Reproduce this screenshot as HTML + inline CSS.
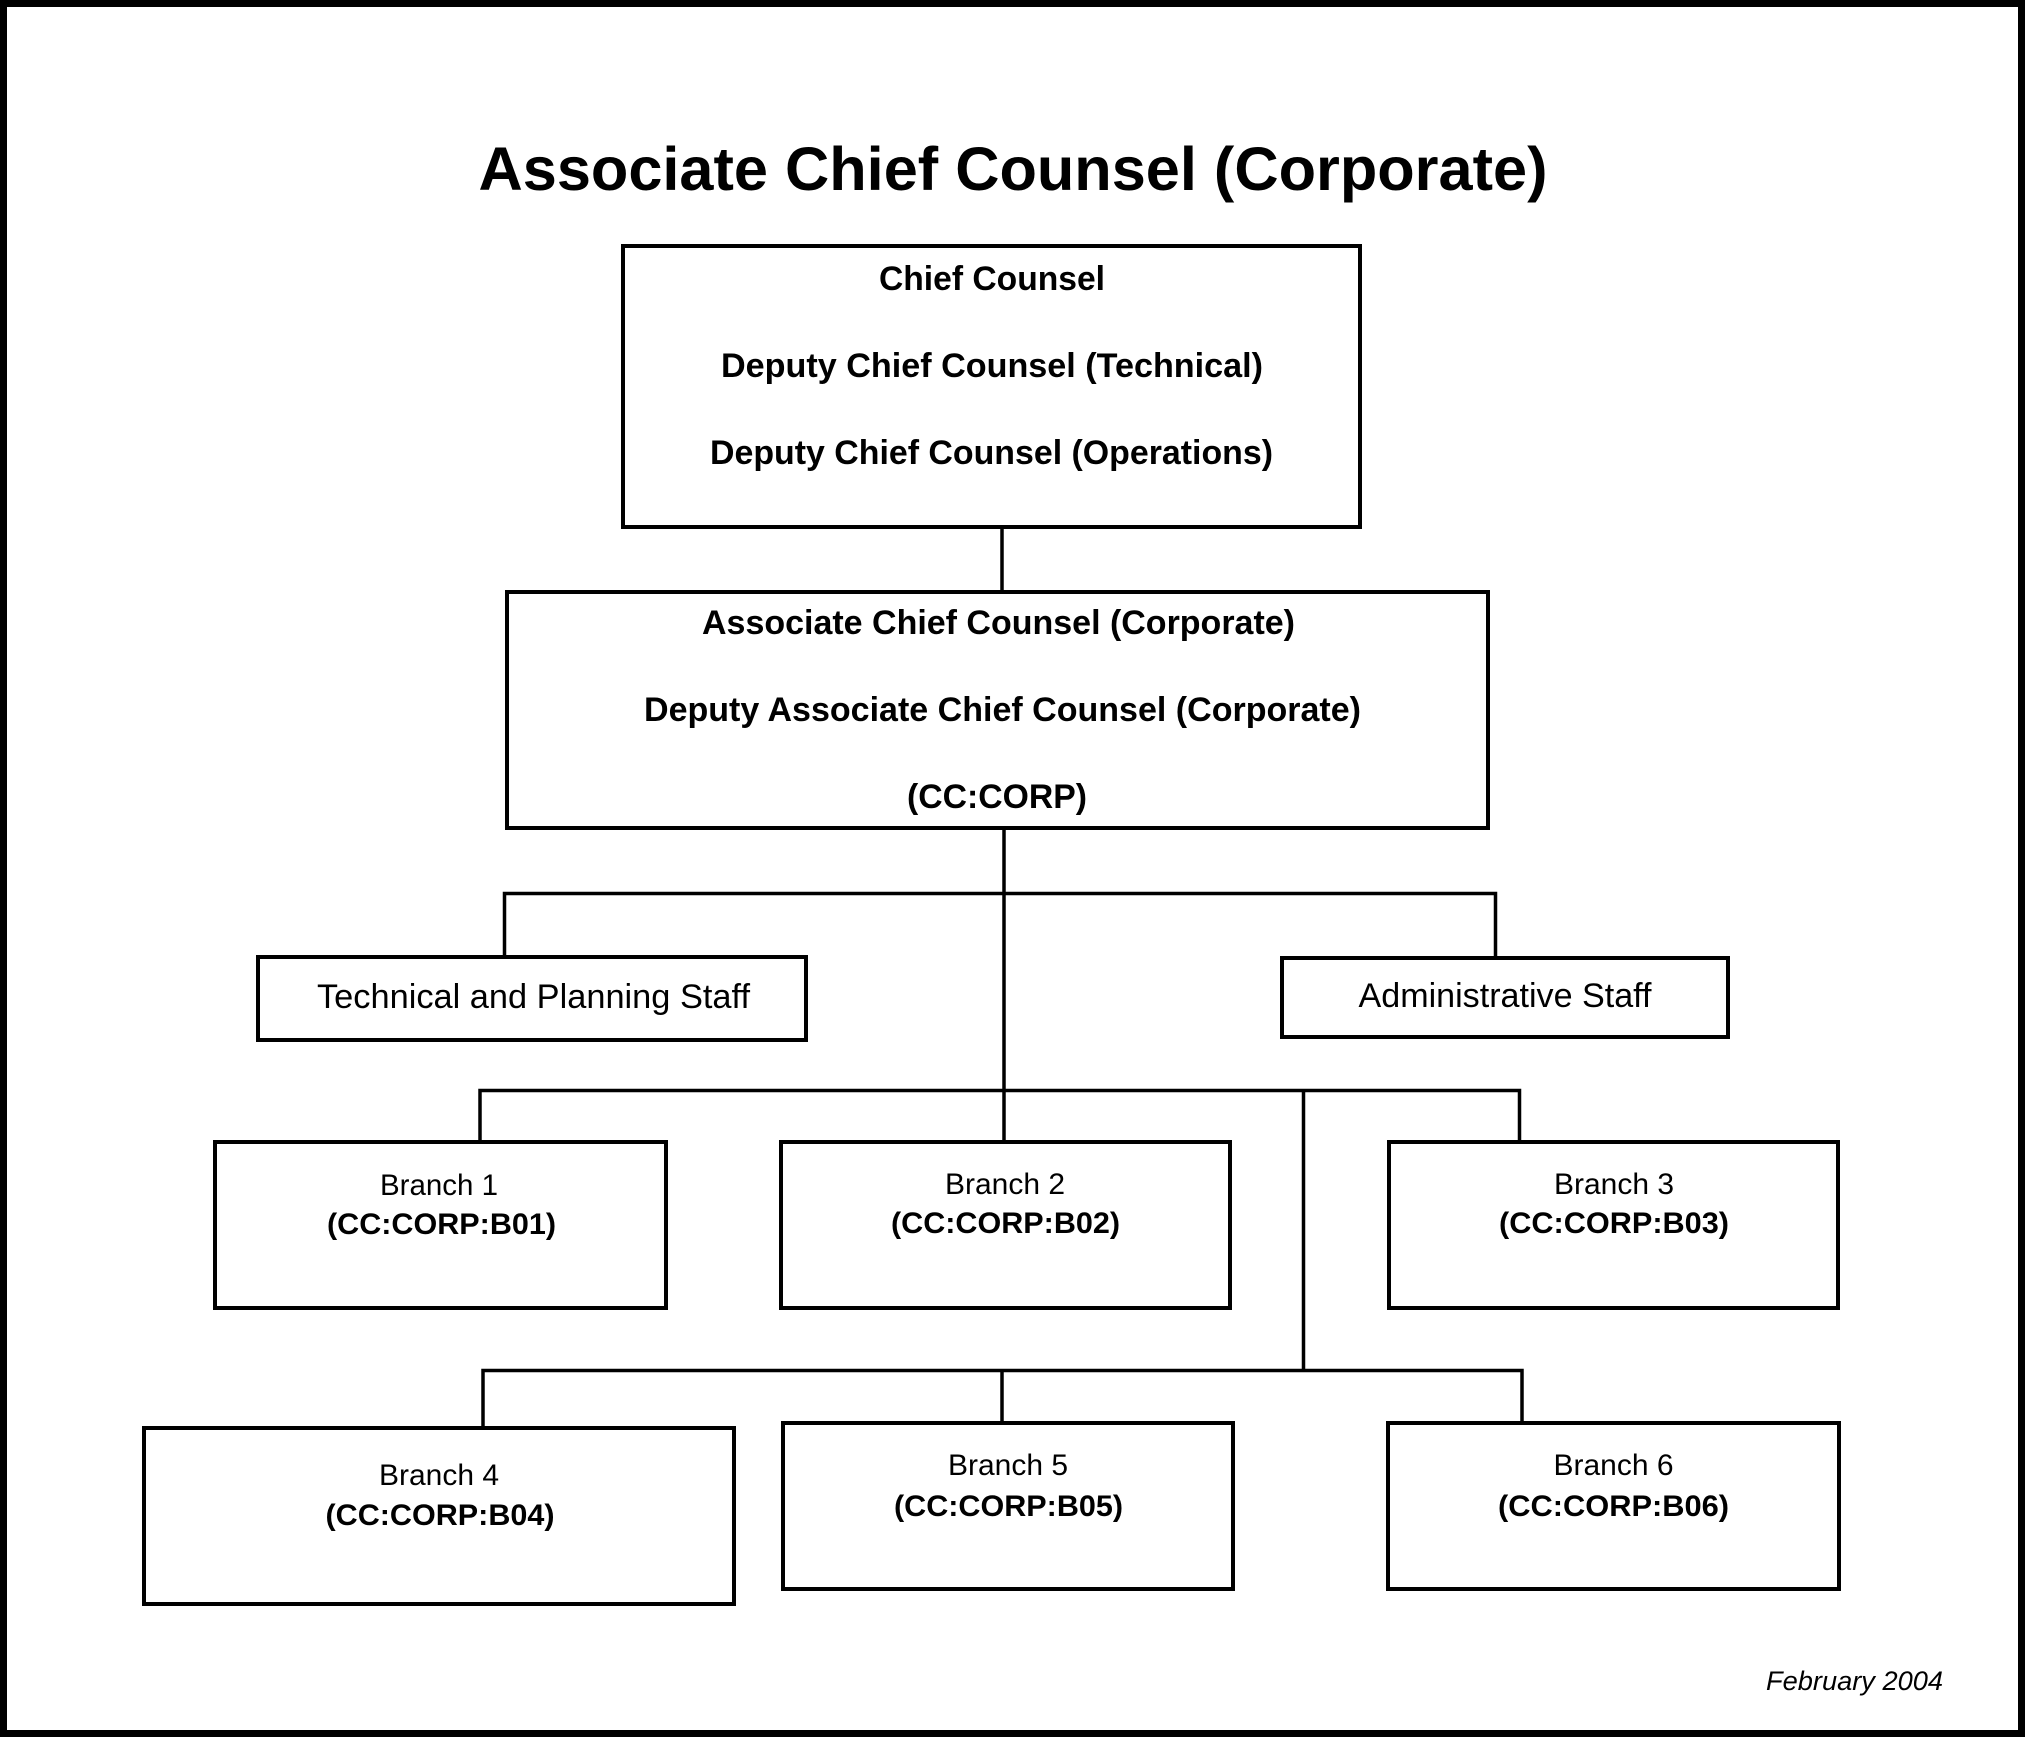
<!DOCTYPE html>
<html>
<head>
<meta charset="utf-8">
<style>
  html, body { margin: 0; padding: 0; background: #ffffff; }
  body { width: 2025px; height: 1737px; overflow: hidden; }
  svg { display: block; }
  text { font-family: "Liberation Sans", Arial, sans-serif; fill: #000; }
  .b { font-weight: bold; }
</style>
</head>
<body>
<svg width="2025" height="1737" viewBox="0 0 2025 1737" xmlns="http://www.w3.org/2000/svg">
  <rect x="0" y="0" width="2025" height="1737" fill="#ffffff"/>
  <!-- outer frame -->
  <rect x="3.5" y="3.5" width="2018" height="1730" fill="none" stroke="#000" stroke-width="7"/>

  <!-- title -->
  <text x="1013" y="190" text-anchor="middle" class="b" font-size="61" textLength="1069" lengthAdjust="spacingAndGlyphs">Associate Chief Counsel (Corporate)</text>

  <!-- boxes -->
  <g fill="none" stroke="#000" stroke-width="4">
    <rect x="623" y="246" width="737" height="281"/>
    <rect x="507" y="592" width="981" height="236"/>
    <rect x="258" y="957" width="548" height="83"/>
    <rect x="1282" y="958" width="446" height="79"/>
    <rect x="215" y="1142" width="451" height="166"/>
    <rect x="781" y="1142" width="449" height="166"/>
    <rect x="1389" y="1142" width="449" height="166"/>
    <rect x="144" y="1428" width="590" height="176"/>
    <rect x="783" y="1423" width="450" height="166"/>
    <rect x="1388" y="1423" width="451" height="166"/>
  </g>

  <!-- connectors -->
  <g fill="none" stroke="#000" stroke-width="3.5" stroke-linejoin="miter">
    <path d="M1002 529 V590"/>
    <path d="M1004 830 V1140"/>
    <path d="M504.5 956 V893.5 H1495.5 V957"/>
    <path d="M480 1141 V1090.5 H1519.5 V1141"/>
    <path d="M1303.5 1090.5 V1370.5"/>
    <path d="M483 1427 V1370.5 H1522 V1422"/>
    <path d="M1002 1370.5 V1422"/>
  </g>

  <!-- chief / associate box text -->
  <g class="b" font-size="34" text-anchor="middle">
    <text x="992" y="290" textLength="226" lengthAdjust="spacingAndGlyphs">Chief Counsel</text>
    <text x="992" y="377" textLength="542" lengthAdjust="spacingAndGlyphs">Deputy Chief Counsel (Technical)</text>
    <text x="991.5" y="464" textLength="563" lengthAdjust="spacingAndGlyphs">Deputy Chief Counsel (Operations)</text>
    <text x="998.5" y="634" textLength="593" lengthAdjust="spacingAndGlyphs">Associate Chief Counsel (Corporate)</text>
    <text x="1002.5" y="721" textLength="717" lengthAdjust="spacingAndGlyphs">Deputy Associate Chief Counsel (Corporate)</text>
    <text x="997" y="808" textLength="180" lengthAdjust="spacingAndGlyphs">(CC:CORP)</text>
  </g>

  <!-- staff -->
  <g font-size="34" text-anchor="middle">
    <text x="533.5" y="1008" textLength="433" lengthAdjust="spacingAndGlyphs">Technical and Planning Staff</text>
    <text x="1505" y="1007" textLength="293" lengthAdjust="spacingAndGlyphs">Administrative Staff</text>
  </g>

  <!-- branches -->
  <g font-size="30" text-anchor="middle">
    <text x="439" y="1195" textLength="118" lengthAdjust="spacingAndGlyphs">Branch 1</text>
    <text x="441.5" y="1234" class="b" textLength="229" lengthAdjust="spacingAndGlyphs">(CC:CORP:B01)</text>
    <text x="1005" y="1194" textLength="120" lengthAdjust="spacingAndGlyphs">Branch 2</text>
    <text x="1005.5" y="1233" class="b" textLength="229" lengthAdjust="spacingAndGlyphs">(CC:CORP:B02)</text>
    <text x="1614" y="1194" textLength="120" lengthAdjust="spacingAndGlyphs">Branch 3</text>
    <text x="1614" y="1233" class="b" textLength="230" lengthAdjust="spacingAndGlyphs">(CC:CORP:B03)</text>
    <text x="439" y="1485" textLength="120" lengthAdjust="spacingAndGlyphs">Branch 4</text>
    <text x="440" y="1525" class="b" textLength="229" lengthAdjust="spacingAndGlyphs">(CC:CORP:B04)</text>
    <text x="1008" y="1475" textLength="120" lengthAdjust="spacingAndGlyphs">Branch 5</text>
    <text x="1008.5" y="1516" class="b" textLength="229" lengthAdjust="spacingAndGlyphs">(CC:CORP:B05)</text>
    <text x="1613.5" y="1475" textLength="120" lengthAdjust="spacingAndGlyphs">Branch 6</text>
    <text x="1613.5" y="1516" class="b" textLength="231" lengthAdjust="spacingAndGlyphs">(CC:CORP:B06)</text>
  </g>

  <text x="1766" y="1690" font-size="27" font-style="italic" textLength="177" lengthAdjust="spacingAndGlyphs">February 2004</text>
</svg>
</body>
</html>
